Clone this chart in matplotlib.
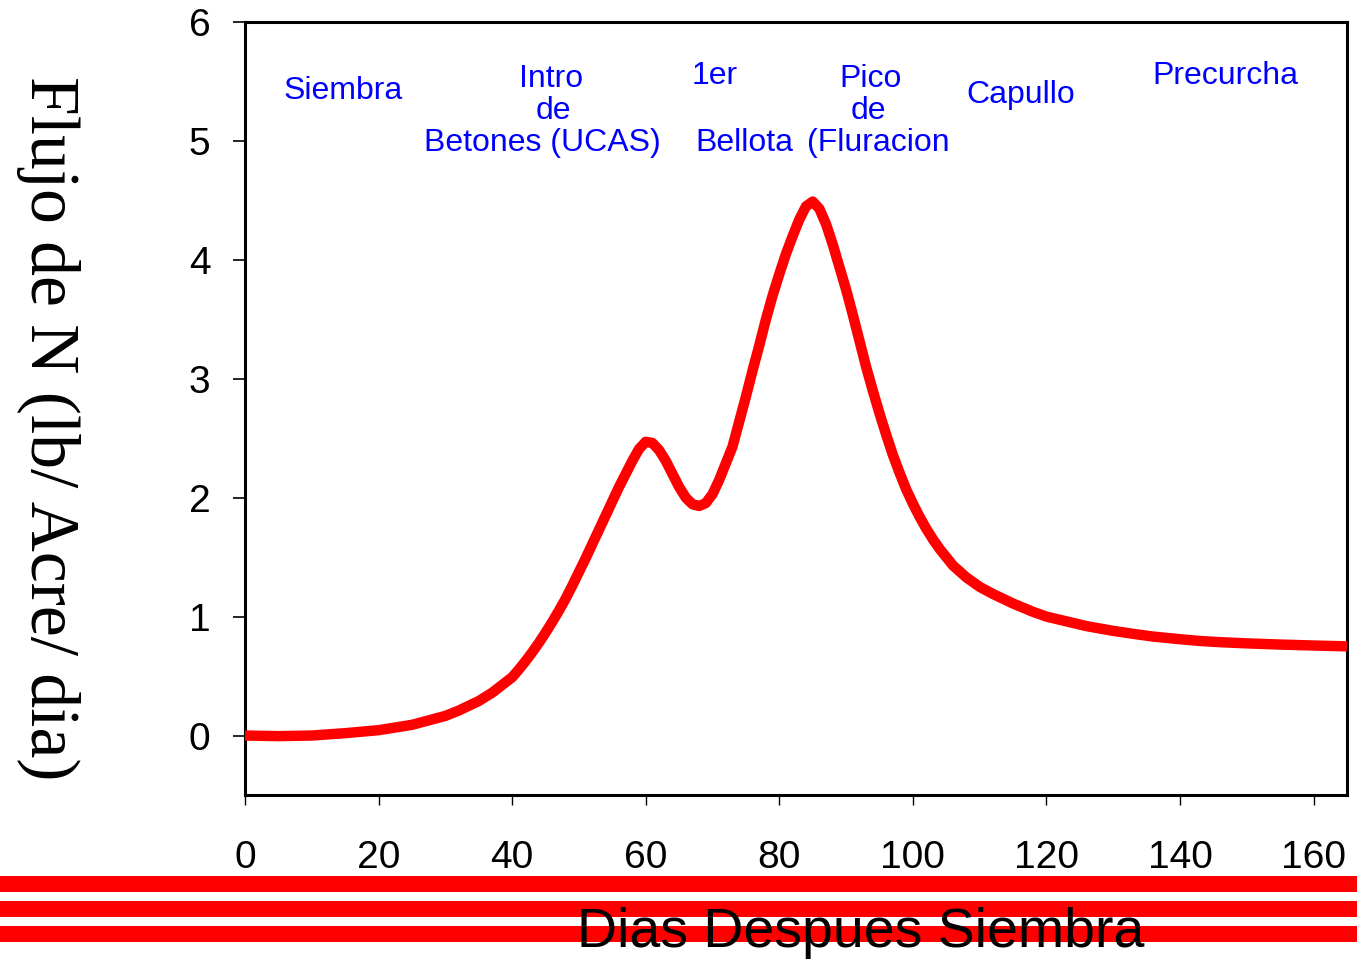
import matplotlib
matplotlib.use("Agg")
import matplotlib.pyplot as plt
from matplotlib.patches import Rectangle

# days after sowing and N uptake (lb/acre/day)
dias = [0, 5, 10, 15, 20, 25, 30, 32, 35, 37, 40,
        41, 42, 43, 44, 45, 46, 47, 48, 49, 50, 51, 52, 53, 54, 55, 56, 57,
        58, 59, 60, 61, 62, 63, 64, 65, 66, 67, 68, 69, 70, 71, 72, 73, 74,
        75, 76, 77, 78, 79, 80, 81, 82, 83, 84, 85, 86, 87, 88, 89, 90, 91,
        92, 93, 94, 95, 96, 97, 98, 99, 100, 101, 102, 103, 104, 105,
        106, 108, 110, 112, 115, 118, 120, 123, 126, 130, 133, 136, 140,
        143, 146, 150, 155, 160, 165]
flujo_n = [0.0, -0.005, 0.0, 0.02, 0.045, 0.09, 0.165, 0.21, 0.29, 0.36, 0.49,
           0.555, 0.625, 0.7, 0.78, 0.865, 0.955, 1.05, 1.15, 1.26, 1.375,
           1.49, 1.61, 1.73, 1.85, 1.97, 2.09, 2.2, 2.31, 2.41, 2.47, 2.46,
           2.4, 2.31, 2.2, 2.09, 2.0, 1.945, 1.93, 1.955, 2.03, 2.15, 2.29,
           2.43, 2.64, 2.85, 3.07, 3.28, 3.5, 3.7, 3.88, 4.05, 4.2, 4.34, 4.45,
           4.49, 4.43, 4.3, 4.13, 3.94, 3.75, 3.54, 3.32, 3.1, 2.9, 2.71,
           2.53, 2.36, 2.21, 2.07, 1.95, 1.84, 1.74, 1.65, 1.57, 1.5,
           1.43, 1.33, 1.25, 1.19, 1.11, 1.04, 1.0, 0.96, 0.92, 0.88, 0.855,
           0.832, 0.81, 0.795, 0.785, 0.775, 0.765, 0.757, 0.75]

x_ticks = [0, 20, 40, 60, 80, 100, 120, 140, 160]
y_ticks = [0, 1, 2, 3, 4, 5, 6]

etapas = ["Siembra", "Intro", "de", "Betones (UCAS)", "1er", "Bellota",
          "Pico", "de", "(Fluracion", "Capullo", "Precurcha"]
# label anchors (data coords, centre)
etapa_pos = [(14.65, 5.42), (45.9, 5.52), (46.1, 5.25), (44.6, 4.98),
             (70.4, 5.55), (74.8, 4.98), (93.6, 5.52), (93.3, 5.25),
             (94.8, 4.98), (116.2, 5.39), (146.8, 5.55)]

sans = ["Liberation Sans", "DejaVu Sans"]
serif = ["Liberation Serif", "DejaVu Serif"]

fig = plt.figure(figsize=(13.57, 9.59), dpi=100)
ax = fig.add_axes([245 / 1357, 1 - 795 / 959, 1102 / 1357, 773 / 959])

ax.plot(dias, flujo_n, color="#ff0000", lw=7.5, solid_capstyle="butt",
        solid_joinstyle="round", clip_on=False, zorder=3)

ax.set_xlim(0, 165)
ax.set_ylim(-0.5, 6)
ax.set_xticks(x_ticks)
ax.set_yticks(y_ticks)
for sp in ax.spines.values():
    sp.set_linewidth(2.2)
ax.tick_params(axis="x", length=7, width=1, pad=25.5, labelsize=28)
ax.tick_params(axis="y", length=9, width=1.2, pad=16, labelsize=28)
for lab in ax.get_xticklabels() + ax.get_yticklabels():
    lab.set_family(sans)

for txt, (x, y) in zip(etapas, etapa_pos):
    ax.text(x, y, txt, color="#0000ff", fontsize=23, family=sans,
            ha="center", va="center")

# the three red stripes across the bottom
for yc in [883.5, 908.7, 933.7]:
    fig.add_artist(Rectangle((0, 1 - (yc + 8) / 959), 1, 16 / 959,
                             transform=fig.transFigure, color="#ff0000",
                             lw=0, zorder=1))

fig.text(861 / 1357, 1 - 947 / 959, "Dias Despues Siembra", fontsize=40,
         family=sans, ha="center", va="baseline", zorder=5)
fig.text(48 / 1357, 1 - 428 / 959, "Flujo de N (lb/ Acre/ dia)", fontsize=50,
         family=serif, rotation=270, ha="center", va="center")

fig.savefig("out.png", dpi=100)
